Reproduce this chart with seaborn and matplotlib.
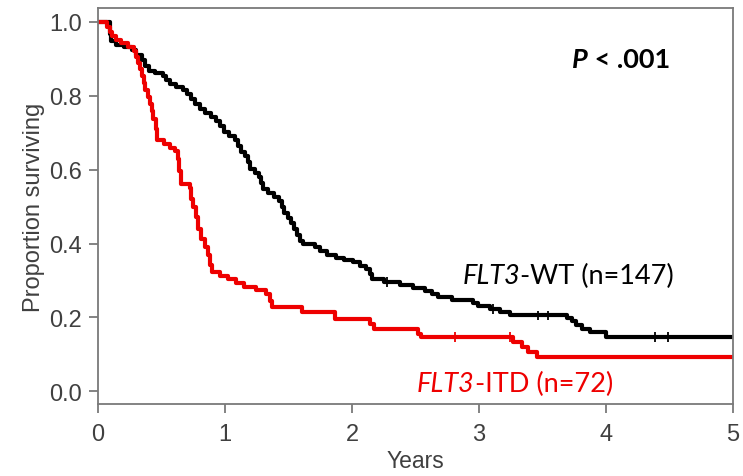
import numpy as np
import pandas as pd
import matplotlib
matplotlib.use("Agg")
import matplotlib.pyplot as plt
import seaborn as sns

# ---- data ----
wt_times = [0.091, 0.106, 0.138, 0.201, 0.264, 0.303, 0.343, 0.374, 0.398, 0.445,
            0.508, 0.532, 0.563, 0.611, 0.666, 0.698, 0.729, 0.760, 0.800, 0.839,
            0.887, 0.926, 0.957, 0.989, 1.028, 1.076, 1.099, 1.123, 1.154, 1.178,
            1.194, 1.233, 1.265, 1.281, 1.296, 1.336, 1.383, 1.422, 1.446, 1.462,
            1.493, 1.517, 1.541, 1.564, 1.588, 1.612, 1.706, 1.745, 1.801, 1.872,
            1.935, 2.006, 2.061, 2.108, 2.140, 2.155, 2.250, 2.376, 2.478, 2.573,
            2.628, 2.675, 2.786, 2.951, 2.990, 3.085, 3.164, 3.243, 3.692, 3.731,
            3.763, 3.810, 3.873, 4.000]
wt_surv = [0.967, 0.948, 0.937, 0.931, 0.923, 0.910, 0.896, 0.880, 0.867, 0.861,
           0.853, 0.842, 0.831, 0.823, 0.815, 0.804, 0.791, 0.777, 0.764, 0.753,
           0.742, 0.731, 0.718, 0.701, 0.690, 0.680, 0.664, 0.647, 0.637, 0.621,
           0.602, 0.591, 0.580, 0.564, 0.547, 0.537, 0.526, 0.515, 0.499, 0.483,
           0.469, 0.455, 0.439, 0.423, 0.407, 0.399, 0.390, 0.379, 0.368, 0.361,
           0.355, 0.349, 0.339, 0.331, 0.318, 0.304, 0.296, 0.288, 0.280, 0.271,
           0.263, 0.255, 0.247, 0.239, 0.231, 0.223, 0.215, 0.206, 0.198, 0.190,
           0.179, 0.169, 0.160, 0.147]
wt_censor = [2.273, 3.109, 3.463, 3.542, 4.385, 4.488]

itd_times = [0.067, 0.091, 0.114, 0.138, 0.185, 0.240, 0.280, 0.296, 0.312, 0.327,
             0.343, 0.359, 0.374, 0.390, 0.406, 0.422, 0.437, 0.453, 0.461, 0.516,
             0.563, 0.603, 0.627, 0.635, 0.650, 0.721, 0.729, 0.745, 0.768, 0.784,
             0.808, 0.839, 0.863, 0.879, 0.895, 0.957, 1.020, 1.083, 1.147, 1.241,
             1.320, 1.352, 1.367, 1.604, 1.864, 2.140, 2.171, 2.518, 2.541, 3.266,
             3.337, 3.384, 3.455]
itd_surv = [0.985, 0.972, 0.961, 0.950, 0.942, 0.931, 0.920, 0.904, 0.888, 0.872,
            0.853, 0.834, 0.815, 0.796, 0.777, 0.758, 0.737, 0.709, 0.680, 0.669,
            0.658, 0.650, 0.628, 0.596, 0.561, 0.550, 0.520, 0.499, 0.472, 0.439,
            0.412, 0.390, 0.368, 0.341, 0.323, 0.313, 0.305, 0.294, 0.283, 0.275,
            0.264, 0.245, 0.228, 0.214, 0.196, 0.182, 0.169, 0.155, 0.147, 0.134,
            0.120, 0.107, 0.093]
itd_censor = [2.809, 3.243]

x_ticks = [0, 1, 2, 3, 4, 5]
y_ticks = [0.0, 0.2, 0.4, 0.6, 0.8, 1.0]
y_tick_labels = ["0.0", "0.2", "0.4", "0.6", "0.8", "1.0"]
x_max = 5

groups = ["WT", "ITD"]
colors = {"WT": "#000000", "ITD": "#ee0000"}


def km_frame(times, surv, name):
    t = [0.0] + list(times) + [x_max]
    s = [1.0] + list(surv) + [surv[-1]]
    return pd.DataFrame({"t": t, "S": s, "group": name})


def censor_frame(ctimes, times, surv, name):
    t_arr = np.array(times)
    s_arr = np.array([1.0] + list(surv))
    idx = np.searchsorted(t_arr, np.array(ctimes), side="right")
    return pd.DataFrame({"t": ctimes, "S": s_arr[idx], "group": name})


df = pd.concat([km_frame(wt_times, wt_surv, "WT"),
                km_frame(itd_times, itd_surv, "ITD")], ignore_index=True)
cdf = pd.concat([censor_frame(wt_censor, wt_times, wt_surv, "WT"),
                 censor_frame(itd_censor, itd_times, itd_surv, "ITD")],
                ignore_index=True)

sns.set_style("white")
plt.rcParams["font.family"] = ["Liberation Sans", "DejaVu Sans"]

fig = plt.figure(figsize=(7.43, 4.77), dpi=100)
ax = fig.add_axes([98 / 743, (477 - 405) / 477, (733 - 98) / 743, (405 - 9) / 477])

sns.lineplot(data=df, x="t", y="S", hue="group", palette=colors,
             hue_order=groups, drawstyle="steps-post", estimator=None,
             sort=False, linewidth=3.0, legend=False, ax=ax)
sns.scatterplot(data=cdf, x="t", y="S", hue="group", palette=colors,
                hue_order=groups, marker="|", s=45, linewidth=1.3,
                legend=False, ax=ax)

ax.set_xlim(0, x_max)
ax.set_ylim(-0.034, 1.037)
ax.set_xticks(x_ticks)
ax.set_yticks(y_ticks)
ax.set_yticklabels(y_tick_labels)

grey = "#7a7a7a"
txt = "#404040"
for sp in ax.spines.values():
    sp.set_visible(True)
    sp.set_color(grey)
    sp.set_linewidth(1.3)
ax.tick_params(axis="both", which="both", direction="out", length=6.5,
               width=1.3, color=grey, labelsize=17, labelcolor=txt,
               bottom=True, left=True)
ax.tick_params(axis="x", pad=7)
ax.tick_params(axis="y", pad=5)
ax.set_xlabel("Years", fontsize=16.5, color=txt, labelpad=3)
ax.set_ylabel("Proportion surviving", fontsize=17, color=txt, labelpad=3)

lab_font = ["Lato", "DejaVu Sans"]
fs = 19.5


def two_part(x, y, first, rest, color, weight="normal"):
    t1 = ax.text(x, y, first, ha="left", va="center", fontsize=fs,
                 fontstyle="italic", fontweight=weight, family=lab_font,
                 color=color)
    ax.annotate(rest, xy=(1, 0), xycoords=t1, ha="left", va="bottom",
                fontsize=fs, fontweight=weight, family=lab_font, color=color)


two_part(3.731, 0.90, "P", " < .001", "#000000", weight="bold")
two_part(2.872, 0.313, "FLT3", "-WT (n=147)", "#000000")
two_part(2.510, 0.022, "FLT3", "-ITD (n=72)", "#ee0000")

fig.savefig("out.png", dpi=100)
